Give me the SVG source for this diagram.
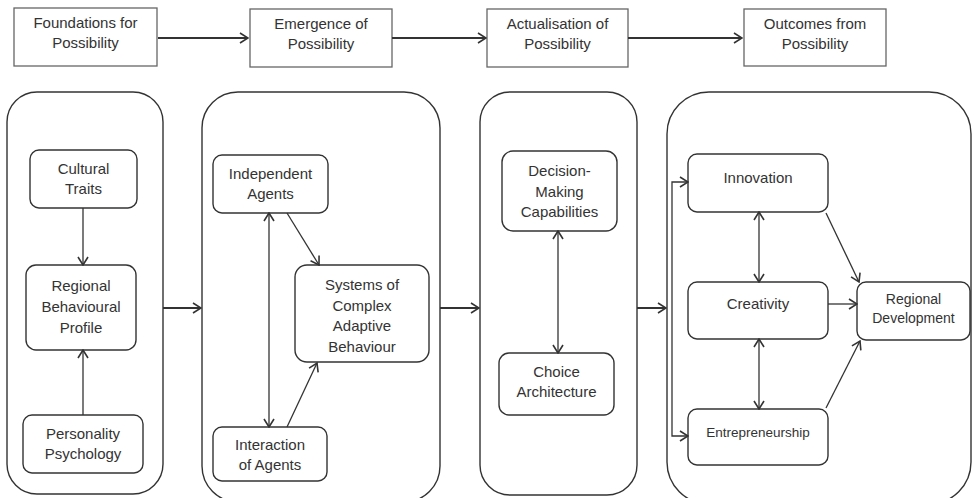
<svg xmlns="http://www.w3.org/2000/svg" width="974" height="498" viewBox="0 0 974 498">
<style>
text{font-family:"Liberation Sans",Arial,sans-serif;font-size:15px;fill:#333;text-anchor:middle}
.stage{fill:#fff;stroke:#666;stroke-width:1.3}
.cont{fill:#fff;stroke:#333;stroke-width:1.4}
.node{fill:#fff;stroke:#333;stroke-width:1.4}
.big{fill:none;stroke:#333;stroke-width:2;marker-end:url(#ah)}
.ln{fill:none;stroke:#333;stroke-width:1.3;marker-end:url(#ah)}
.dbl{fill:none;stroke:#333;stroke-width:1.3;marker-end:url(#ah);marker-start:url(#ah)}
</style>
<defs>
<marker id="ah" viewBox="0 0 12 12" refX="11" refY="6" markerWidth="12" markerHeight="12" markerUnits="userSpaceOnUse" orient="auto-start-reverse">
<path d="M3,1 L11,6 L3,11" fill="none" stroke="#333" stroke-width="1.6"/>
</marker>
</defs>
<rect width="974" height="498" fill="#fff"/>
<g id="stage1"><rect class="stage" x="14" y="8" width="143" height="58"/><text x="85.5" y="28">Foundations for</text><text x="85.5" y="48">Possibility</text></g>
<g id="stage2"><rect class="stage" x="250" y="9" width="142" height="58"/><text x="321" y="29">Emergence of</text><text x="321" y="49">Possibility</text></g>
<g id="stage3"><rect class="stage" x="487" y="9" width="141" height="58"/><text x="557.5" y="29">Actualisation of</text><text x="557.5" y="49">Possibility</text></g>
<g id="stage4"><rect class="stage" x="744" y="9" width="142" height="57"/><text x="815" y="29">Outcomes from</text><text x="815" y="49">Possibility</text></g>

<g id="container1"><rect class="cont" x="7" y="92" width="156" height="402" rx="30"/></g>
<g id="container2"><rect class="cont" x="202" y="92" width="238" height="410" rx="36"/></g>
<g id="container3"><rect class="cont" x="480" y="92" width="157" height="403" rx="30"/></g>
<g id="container4"><rect class="cont" x="667" y="92" width="304" height="412" rx="42"/></g>

<g id="cultural-traits"><rect class="node" x="30" y="150" width="107" height="58" rx="9"/><text x="83.5" y="174">Cultural</text><text x="83.5" y="194">Traits</text></g>
<g id="regional-behavioural-profile"><rect class="node" x="26" y="265" width="110" height="85" rx="10"/><text x="81" y="291">Regional</text><text x="81" y="312">Behavioural</text><text x="81" y="333">Profile</text></g>
<g id="personality-psychology"><rect class="node" x="23" y="415" width="120" height="58" rx="9"/><text x="83" y="439">Personality</text><text x="83" y="459">Psychology</text></g>

<g id="independent-agents"><rect class="node" x="213" y="155" width="115" height="58" rx="9"/><text x="270.5" y="179">Independent</text><text x="270.5" y="199">Agents</text></g>
<g id="systems-cab"><rect class="node" x="295" y="265" width="134" height="97" rx="12"/><text x="362" y="290">Systems of</text><text x="362" y="310.5">Complex</text><text x="362" y="331">Adaptive</text><text x="362" y="351.5">Behaviour</text></g>
<g id="interaction-of-agents"><rect class="node" x="213" y="427" width="114" height="54" rx="9"/><text x="270" y="449.5">Interaction</text><text x="270" y="469.5">of Agents</text></g>

<g id="decision-making"><rect class="node" x="502" y="151" width="115" height="80" rx="11"/><text x="559.5" y="176">Decision-</text><text x="559.5" y="196.5">Making</text><text x="559.5" y="217">Capabilities</text></g>
<g id="choice-architecture"><rect class="node" x="499" y="353" width="115" height="62" rx="10"/><text x="556.5" y="377">Choice</text><text x="556.5" y="397">Architecture</text></g>

<g id="innovation"><rect class="node" x="688" y="154" width="140" height="58" rx="9"/><text x="758" y="182.5">Innovation</text></g>
<g id="creativity"><rect class="node" x="688" y="282" width="140" height="57" rx="9"/><text x="758" y="308.5">Creativity</text></g>
<g id="entrepreneurship"><rect class="node" x="688" y="409" width="140" height="56" rx="9"/><text x="758" y="436.5" style="font-size:13.5px">Entrepreneurship</text></g>
<g id="regional-development"><rect class="node" x="857" y="282" width="113" height="58" rx="9"/><text x="913.5" y="303.5" style="font-size:14px">Regional</text><text x="913.5" y="322.5" style="font-size:14px">Development</text></g>

<g id="connectors">
<line class="big" x1="158" y1="38" x2="248" y2="38"/>
<line class="big" x1="392" y1="38" x2="486" y2="38"/>
<line class="big" x1="628" y1="38" x2="742" y2="38"/>
<line class="big" x1="163" y1="308" x2="201" y2="308"/>
<line class="big" x1="440" y1="308" x2="479" y2="308"/>
<line class="big" x1="637" y1="308" x2="666" y2="308"/>
<line class="ln" x1="83" y1="208" x2="83" y2="265"/>
<line class="ln" x1="83" y1="415" x2="83" y2="350"/>
<line class="dbl" x1="269" y1="213" x2="269" y2="427"/>
<line class="ln" x1="287" y1="213" x2="319" y2="265"/>
<line class="ln" x1="287" y1="427" x2="317" y2="363"/>
<line class="dbl" x1="558" y1="231" x2="558" y2="353"/>
<path class="dbl" d="M688,182 H672 V436 H688"/>
<line class="dbl" x1="759" y1="212" x2="759" y2="282"/>
<line class="dbl" x1="759" y1="339" x2="759" y2="409"/>
<line class="ln" x1="826" y1="213" x2="859" y2="282"/>
<line class="ln" x1="828" y1="304" x2="857" y2="304"/>
<line class="ln" x1="826" y1="408" x2="860" y2="341"/>
</g>
</svg>
